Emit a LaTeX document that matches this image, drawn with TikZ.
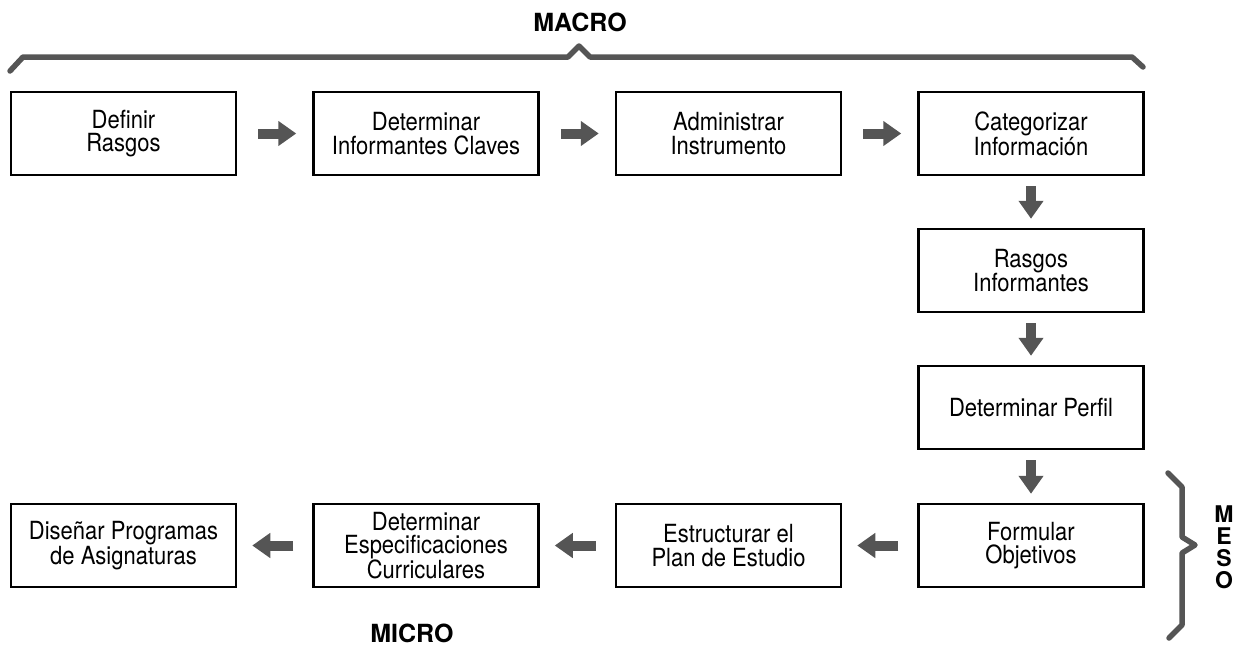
\documentclass[tikz,border=0pt]{standalone}
\usepackage{fontspec}
\setmainfont{TeX Gyre Heros}
\newfontfamily\boxfont[FakeStretch=0.88]{TeX Gyre Heros}
\usetikzlibrary{arrows.meta}
\definecolor{arrowgray}{RGB}{85,85,85}

\begin{document}
\begin{tikzpicture}[x=1pt, y=-1pt,
    stepbox/.style={draw, line width=2.5pt, minimum width=225pt, minimum height=83pt,
        inner sep=0pt, align=center, font=\boxfont\fontsize{25}{23.5}\selectfont},
    flow/.style={draw=arrowgray, line width=10pt, -{Triangle[length=18pt, width=24pt]}},
    levellabel/.style={font=\fontsize{25}{20}\selectfont\bfseries, inner sep=0pt, align=center},
    bracket/.style={draw=arrowgray, line width=5.5pt, line cap=round, line join=round}]
    \useasboundingbox (0,0) rectangle (1238,646);

    % Define the top row of steps
    \node[stepbox] (rasgos) at (123.5,133.5) {Definir\\Rasgos};
    \node[stepbox] (informantes) at (426,133.5) {Determinar\\Informantes Claves};
    \node[stepbox] (instrumento) at (728.5,133.5) {Administrar\\Instrumento};
    \node[stepbox] (categorizar) at (1031,133.5) {Categorizar\\Información};

    % Define the steps going down on the right
    \node[stepbox] (rasgosinf) at (1031,270.5) {Rasgos\\Informantes};
    \node[stepbox] (perfil) at (1031,407.5) {Determinar Perfil};
    \node[stepbox] (objetivos) at (1031,545.5) {Formular\\Objetivos};

    % Define the bottom row of steps
    \node[stepbox] (plan) at (728.5,545.5) {Estructurar el\\Plan de Estudio};
    \node[stepbox] (especificaciones) at (426,545.5) {Determinar\\Especificaciones\\Curriculares};
    \node[stepbox] (programas) at (123.5,545.5) {Diseñar Programas\\de Asignaturas};

    % Draw the arrows along the top row
    \draw[flow, shorten <=21pt, shorten >=16pt] (rasgos) -- (informantes);
    \draw[flow, shorten <=21pt, shorten >=16pt] (informantes) -- (instrumento);
    \draw[flow, shorten <=21pt, shorten >=16pt] (instrumento) -- (categorizar);

    % Draw the arrows going down
    \draw[flow, shorten <=10pt, shorten >=9pt] (categorizar) -- (rasgosinf);
    \draw[flow, shorten <=10pt, shorten >=9pt] (rasgosinf) -- (perfil);
    \draw[flow, shorten <=10pt, shorten >=9pt] (perfil) -- (objetivos);

    % Draw the arrows along the bottom row
    \draw[flow, shorten <=19pt, shorten >=15pt] (objetivos) -- (plan);
    \draw[flow, shorten <=19pt, shorten >=15pt] (plan) -- (especificaciones);
    \draw[flow, shorten <=19pt, shorten >=15pt] (especificaciones) -- (programas);

    % Define the level labels
    \node[levellabel] (macro) at (580,22) {MACRO};
    \node[levellabel] (micro) at (412,633) {MICRO};
    \node[levellabel, font=\fontsize{23}{22}\selectfont\bfseries] (meso) at (1224,547) {M\\E\\S\\O};

    % Draw the brackets
    \draw[bracket] (10,71) -- (23,57) -- (568,57) -- (579,46) -- (590,57) -- (1132,57) -- (1143,67);
    \draw[bracket] (1168,473) -- (1182,487) -- (1182,537) -- (1195,545) -- (1182,553) -- (1182,625) -- (1169,638);
\end{tikzpicture}
\end{document}
